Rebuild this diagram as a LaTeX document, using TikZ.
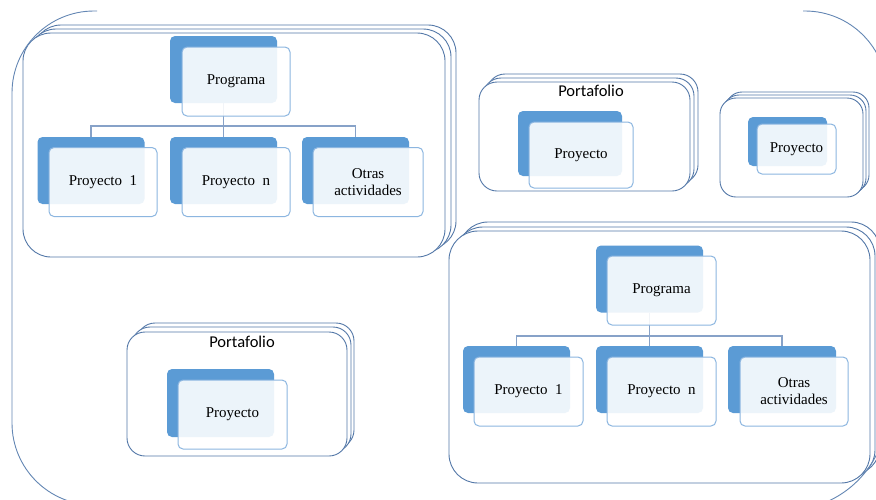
\documentclass[tikz,border=0pt]{standalone}
\usepackage{fontspec}
\setmainfont{Liberation Serif}
\newfontfamily\portfont{Carlito}
\definecolor{dkb}{RGB}{91,155,213}
\definecolor{frb}{RGB}{140,182,224}
\definecolor{ctb}{RGB}{84,120,168}
\definecolor{cnb}{RGB}{135,162,200}
\definecolor{otb}{RGB}{100,135,180}
\tikzset{
  dkbox/.style={rectangle, fill=dkb, rounded corners=5pt, inner sep=0pt, minimum width=107, minimum height=67},
  frbox/.style={rectangle, draw=frb, line width=1pt, fill=white, fill opacity=0.89, text opacity=1,
    rounded corners=5pt, inner sep=0pt, minimum width=108, minimum height=69, align=center,
    font=\fontsize{15}{17}\selectfont},
  cont/.style={draw=ctb, fill=white, line width=0.9pt},
  outerln/.style={draw=otb, line width=0.9pt},
  conn/.style={draw=cnb, line width=1.3pt},
  porttxt/.style={font=\portfont\fontsize{16.5}{18}\selectfont, inner sep=0pt}
}
\begin{document}
\begin{tikzpicture}[x=1pt,y=-1pt]
\clip (0,0) rectangle (876,499);
\fill[white] (0,0) rectangle (876,499);

% ---------- top-left programa group ----------
\draw[cont, rounded corners=28pt] (33,25) rectangle (456,249);
\draw[cont, rounded corners=28pt] (28,29) rectangle (451,253);
\draw[cont, rounded corners=28pt] (23,33) rectangle (445,257);
\node[dkbox] (pgd) at (223.5,69.5) {};
\node[dkbox] (c1d) at (91,170.5) {};
\node[dkbox] (c2d) at (223.5,170.5) {};
\node[dkbox] (c3d) at (355.5,170.5) {};
\coordinate (bar1) at (223.5,126);
\draw[conn] (pgd.south) -- (bar1);
\draw[conn] (bar1) -| (c1d.north);
\draw[conn] (bar1) -| (c3d.north);
\draw[conn] (bar1) -- (c2d.north);
\node[frbox] (pgf) at (236,81.5) {Programa};
\node[frbox] (c1f) at (103,182) {Proyecto\hspace{0.5em}1};
\node[frbox] (c2f) at (236,182) {Proyecto\hspace{0.5em}n};
\node[frbox, minimum width=110] (c3f) at (368,182) {Otras\\actividades};

% ---------- bottom-right programa group ----------
\draw[cont, rounded corners=29pt] (459,222) rectangle (880,475);
\draw[cont, rounded corners=29pt] (454,227) rectangle (875,479);
\draw[cont, rounded corners=29pt] (449,231) rectangle (870,483);
\node[dkbox] (qgd) at (649.5,279) {};
\node[dkbox] (d1d) at (516.5,379.5) {};
\node[dkbox] (d2d) at (649.5,379.5) {};
\node[dkbox, minimum width=108] (d3d) at (782,379.5) {};
\coordinate (bar2) at (649.5,336);
\draw[conn] (qgd.south) -- (bar2);
\draw[conn] (bar2) -| (d1d.north);
\draw[conn] (bar2) -| (d3d.north);
\draw[conn] (bar2) -- (d2d.north);
\node[frbox, minimum width=109] (qgf) at (661.5,290.5) {Programa};
\node[frbox, minimum width=109] (d1f) at (528.5,391.5) {Proyecto\hspace{0.5em}1};
\node[frbox, minimum width=109] (d2f) at (661.5,391.5) {Proyecto\hspace{0.5em}n};
\node[frbox] (d3f) at (794,391.5) {Otras\\actividades};

% ---------- top portafolio ----------
\draw[cont, rounded corners=18pt] (487,74) rectangle (698,183);
\draw[cont, rounded corners=18pt] (483,78) rectangle (694,187);
\draw[cont, rounded corners=18pt] (479,82) rectangle (690,191);
\node[porttxt] (pt1) at (591,91) {Portafolio};
\node[dkbox, minimum width=104, minimum height=65] (p1d) at (570,143.5) {};
\node[frbox, minimum width=104, minimum height=66] (p1f) at (581,155) {Proyecto};

% ---------- small right container ----------
\draw[cont, rounded corners=16pt] (726,92) rectangle (869,191);
\draw[cont, rounded corners=16pt] (723,95) rectangle (866,194);
\draw[cont, rounded corners=16pt] (720,98) rectangle (863,197);
\node[dkbox, minimum width=79, minimum height=49] (p2d) at (787.5,141.5) {};
\node[frbox, minimum width=79, minimum height=50] (p2f) at (796.5,149) {Proyecto};

% ---------- bottom-left portafolio ----------
\draw[cont, rounded corners=18pt] (137,323) rectangle (354,448);
\draw[cont, rounded corners=18pt] (132,327) rectangle (351,452);
\draw[cont, rounded corners=18pt] (127,332) rectangle (347,456);
\node[porttxt] (pt2) at (242,342) {Portafolio};
\node[dkbox, minimum height=68] (p3d) at (220.5,403) {};
\node[frbox, minimum width=109] (p3f) at (232.5,414.5) {Proyecto};

% big outer shape (partly visible), drawn on top
\draw[outerln, rounded corners=82pt] (97,11) -- (12,11) -- (12,505) -- (300,505);
\draw[outerln] (803,11) [rounded corners=82pt] -- (887,11) [rounded corners=100pt] -- (887,510) -- (700,510);
\end{tikzpicture}
\end{document}
